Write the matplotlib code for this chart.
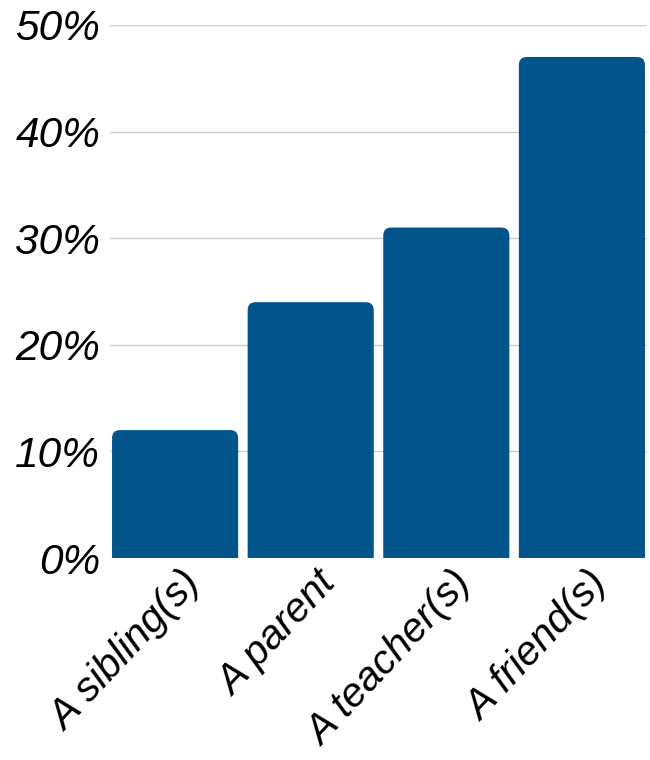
import matplotlib
matplotlib.use("Agg")
import matplotlib.pyplot as plt
from matplotlib.patches import FancyBboxPatch
from matplotlib.ticker import FuncFormatter
from matplotlib.transforms import ScaledTranslation

categories = ["A sibling(s)", "A parent", "A teacher(s)", "A friend(s)"]
values = [12, 24, 31, 47]
y_ticks = [0, 10, 20, 30, 40, 50]

plt.rcParams['font.family'] = ['Liberation Sans', 'DejaVu Sans']

fig = plt.figure(figsize=(6.5, 7.6), dpi=100)
ax = fig.add_axes([110/650, 1-558/760, (647-110)/650, (558-25)/760])

ax.set_xlim(-0.48, len(categories) - 1 + 0.48)
ax.set_ylim(0, 50)
ax.set_yticks(y_ticks)
ax.yaxis.set_major_formatter(FuncFormatter(lambda v, p: f"{int(v)}%"))
ax.grid(axis='y', color='#cccccc', linewidth=1)
ax.set_axisbelow(True)
for s in ax.spines.values():
    s.set_visible(False)
ax.tick_params(axis='both', length=0)
ax.tick_params(axis='y', pad=7, labelsize=30.5)
for t in ax.get_yticklabels():
    t.set_fontstyle('italic')

width = 0.93
color = '#02558b'
fig.canvas.draw()
px_x = (ax.get_xlim()[1] - ax.get_xlim()[0]) / ax.bbox.width
px_y = (ax.get_ylim()[1] - ax.get_ylim()[0]) / ax.bbox.height
r_px = 8
r_x = r_px * px_x
aspect = px_y / px_x
for i, v in enumerate(values):
    p = FancyBboxPatch((i - width/2, -2), width, v + 2,
                       boxstyle=f"round,pad=0,rounding_size={r_x}",
                       mutation_aspect=aspect, facecolor=color,
                       edgecolor='none', zorder=3)
    ax.add_patch(p)

ax.set_xticks(range(len(categories)))
ax.set_xticklabels(categories, rotation=47, ha='right', va='top',
                   rotation_mode='anchor', fontsize=29.5, fontstyle='italic')
ax.tick_params(axis='x', pad=5)
off = ScaledTranslation(5/100, 0, fig.dpi_scale_trans)
for t in ax.get_xticklabels():
    t.set_transform(t.get_transform() + off)

fig.savefig("out.png", dpi=100)
